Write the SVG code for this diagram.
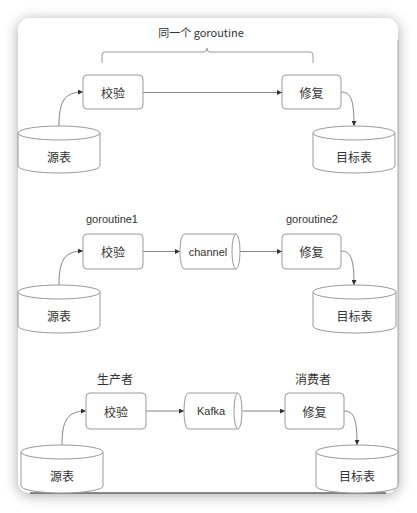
<svg xmlns="http://www.w3.org/2000/svg" width="417" height="513" viewBox="0 0 417 513">
<defs>
<filter id="sh" x="-20%" y="-20%" width="140%" height="140%">
<feGaussianBlur in="SourceAlpha" stdDeviation="7"/>
<feOffset dx="0" dy="2"/>
<feComponentTransfer><feFuncA type="linear" slope="0.35"/></feComponentTransfer>
<feMerge><feMergeNode/><feMergeNode in="SourceGraphic"/></feMerge>
</filter>
<marker id="ah" viewBox="0 0 10 10" refX="10" refY="5" markerWidth="5" markerHeight="5" orient="auto" markerUnits="userSpaceOnUse">
<path d="M0,0 L10,5 L0,10 Z" fill="#333"/>
</marker>
</defs>
<style>
.box{fill:#fff;stroke:#9a9a9a;stroke-width:1}
.cyl{fill:#fff;stroke:#9a9a9a;stroke-width:1}
.cn{fill:none;stroke:#777;stroke-width:0.9;marker-end:url(#ah)}
.t{font-family:"Noto Sans CJK SC","Liberation Sans",sans-serif;font-size:12px;fill:#333;text-anchor:middle;dominant-baseline:central}
.e{font-family:"Liberation Sans","Noto Sans CJK SC",sans-serif;font-size:11px;fill:#333;text-anchor:middle;dominant-baseline:central}
</style>
<rect width="417" height="513" fill="#fff"/>
<rect x="18" y="18" width="380" height="475" rx="12" fill="#fff" filter="url(#sh)"/>
<line x1="398" y1="40" x2="398" y2="483" stroke="#aaa" stroke-width="1"/>
<line x1="30" y1="493" x2="386" y2="493" stroke="#666" stroke-width="1.5"/>

<g id="connectors">
<path class="cn" d="M59,126 C59,102 64,92 83,92"/>
<path class="cn" d="M143,92.5 L282,92.5"/>
<path class="cn" d="M341,92 C351,92 354,100 354,126"/>
<path class="cn" d="M59,285 C59,261 64,251 83,251"/>
<path class="cn" d="M143,251.5 L180,251.5"/>
<path class="cn" d="M240,251.5 L282,251.5"/>
<path class="cn" d="M341,251 C351,251 354,259 354,285"/>
<path class="cn" d="M62,445 C62,421 67,411 86,411"/>
<path class="cn" d="M146,411 L184,411"/>
<path class="cn" d="M243,411 L285,411"/>
<path class="cn" d="M344,411 C354,411 357,419 357,445"/>
</g>

<g id="brace">
<path d="M102,63 L102,55 Q102,52 105,52 L204,52 Q207,52 207,48 Q207,52 210,52 L310,52 Q313,52 313,55 L313,63" fill="none" stroke="#9a9a9a" stroke-width="1"/>
<text class="e" x="201" y="32" style="font-family:'Noto Sans CJK SC','Liberation Sans',sans-serif">同一个 goroutine</text>
</g>

<!-- Section 1 -->
<g id="src1">
<path class="cyl" d="M18,133 A41,7 0 0 1 100,133 L100,166 A41,7 0 0 1 18,166 Z"/>
<path class="cyl" d="M18,133 A41,7 0 0 0 100,133" fill="none"/>
<text class="t" x="59" y="156">源表</text>
</g>
<g id="check1">
<rect class="box" x="83" y="75" width="60" height="34" rx="4"/>
<text class="t" x="113" y="92">校验</text>
</g>
<g id="fix1">
<rect class="box" x="282" y="75" width="59" height="34" rx="4"/>
<text class="t" x="311.5" y="92">修复</text>
</g>
<g id="dst1">
<path class="cyl" d="M313,133 A41,7 0 0 1 395,133 L395,166 A41,7 0 0 1 313,166 Z"/>
<path class="cyl" d="M313,133 A41,7 0 0 0 395,133" fill="none"/>
<text class="t" x="354" y="156">目标表</text>
</g>

<!-- Section 2 -->
<g id="lbl-g1"><text class="e" x="112" y="219">goroutine1</text></g>
<g id="lbl-g2"><text class="e" x="312" y="219">goroutine2</text></g>
<g id="src2">
<path class="cyl" d="M18,292 A41,7 0 0 1 100,292 L100,326 A41,7 0 0 1 18,326 Z"/>
<path class="cyl" d="M18,292 A41,7 0 0 0 100,292" fill="none"/>
<text class="t" x="59" y="315">源表</text>
</g>
<g id="check2">
<rect class="box" x="83" y="234" width="60" height="35" rx="4"/>
<text class="t" x="113" y="251.5">校验</text>
</g>
<g id="channel">
<path class="cyl" d="M184,234 L236,234 A4,17.5 0 0 1 236,269 L184,269 A4,17.5 0 0 1 184,234 Z"/>
<path class="cyl" d="M236,234 A4,17.5 0 0 0 236,269" fill="none"/>
<text class="e" x="208" y="251.5">channel</text>
</g>
<g id="fix2">
<rect class="box" x="282" y="234" width="59" height="35" rx="4"/>
<text class="t" x="311.5" y="251.5">修复</text>
</g>
<g id="dst2">
<path class="cyl" d="M313,292 A41.5,7 0 0 1 396,292 L396,326 A41.5,7 0 0 1 313,326 Z"/>
<path class="cyl" d="M313,292 A41.5,7 0 0 0 396,292" fill="none"/>
<text class="t" x="354.5" y="315">目标表</text>
</g>

<!-- Section 3 -->
<g id="lbl-p"><text class="t" x="115" y="378">生产者</text></g>
<g id="lbl-c"><text class="t" x="313" y="378">消费者</text></g>
<g id="src3">
<path class="cyl" d="M21,452 A41,7 0 0 1 103,452 L103,486 A41,7 0 0 1 21,486 Z"/>
<path class="cyl" d="M21,452 A41,7 0 0 0 103,452" fill="none"/>
<text class="t" x="62" y="475">源表</text>
</g>
<g id="check3">
<rect class="box" x="86" y="393" width="60" height="36" rx="4"/>
<text class="t" x="116" y="411">校验</text>
</g>
<g id="kafka">
<path class="cyl" d="M188,393 L238,393 A4,18 0 0 1 238,429 L188,429 A4,18 0 0 1 188,393 Z"/>
<path class="cyl" d="M238,393 A4,18 0 0 0 238,429" fill="none"/>
<text class="e" x="211" y="411">Kafka</text>
</g>
<g id="fix3">
<rect class="box" x="285" y="393" width="59" height="36" rx="4"/>
<text class="t" x="314.5" y="411">修复</text>
</g>
<g id="dst3">
<path class="cyl" d="M316,452 A41,7 0 0 1 398,452 L398,486 A41,7 0 0 1 316,486 Z"/>
<path class="cyl" d="M316,452 A41,7 0 0 0 398,452" fill="none"/>
<text class="t" x="357" y="475">目标表</text>
</g>
</svg>
